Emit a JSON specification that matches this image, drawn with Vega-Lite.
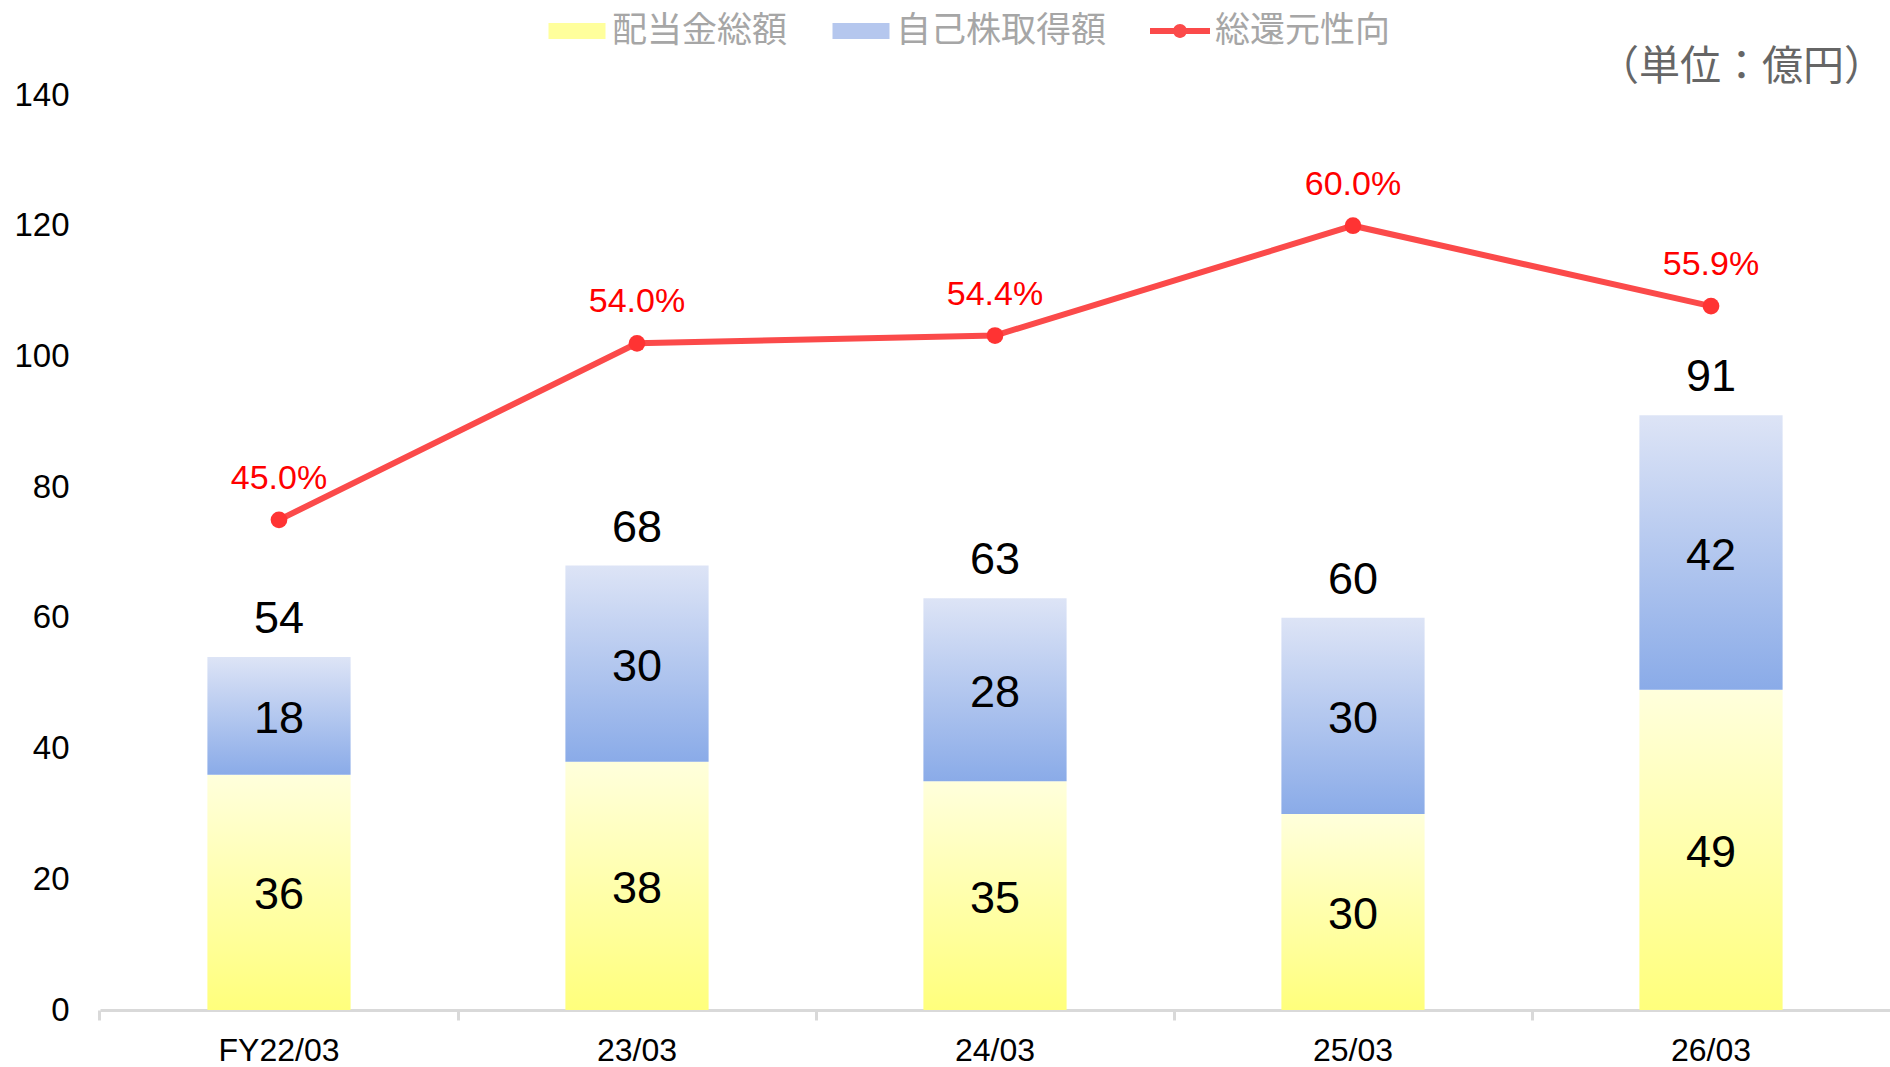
{
  "$schema": "https://vega.github.io/schema/vega-lite/v6.json",
  "width": 1790,
  "height": 915,
  "autosize": {"type": "none"},
  "padding": {"left": 100, "top": 95, "right": 0, "bottom": 57},
  "background": "white",
  "config": {"view": {"stroke": null}, "font": "Liberation Sans"},
  "title": {
    "text": "（単位：億円）",
    "anchor": "end",
    "frame": "group",
    "orient": "top",
    "offset": 29,
    "baseline": "middle",
    "font": "Noto Sans CJK JP",
    "fontSize": 41,
    "fontWeight": "normal",
    "color": "#666666",
    "dx": -5,
    "dy": 137
  },
  "datasets": {
    "bars": [
      {"period": "FY22/03", "series": "配当金総額", "value": 36},
      {"period": "FY22/03", "series": "自己株取得額", "value": 18},
      {"period": "23/03", "series": "配当金総額", "value": 38},
      {"period": "23/03", "series": "自己株取得額", "value": 30},
      {"period": "24/03", "series": "配当金総額", "value": 35},
      {"period": "24/03", "series": "自己株取得額", "value": 28},
      {"period": "25/03", "series": "配当金総額", "value": 30},
      {"period": "25/03", "series": "自己株取得額", "value": 30},
      {"period": "26/03", "series": "配当金総額", "value": 49},
      {"period": "26/03", "series": "自己株取得額", "value": 42}
    ],
    "ratio": [
      {"period": "FY22/03", "pct": 0.45},
      {"period": "23/03", "pct": 0.54},
      {"period": "24/03", "pct": 0.544},
      {"period": "25/03", "pct": 0.60},
      {"period": "26/03", "pct": 0.559}
    ]
  },
  "layer": [
    {
      "data": {"name": "bars"},
      "transform": [
        {"stack": "value", "groupby": ["period"], "sort": [{"field": "series", "order": "descending"}], "as": ["v0", "v1"]}
      ],
      "layer": [
        {
          "mark": {"type": "bar", "fillOpacity": 0, "strokeWidth": 0},
          "encoding": {
            "x": {
              "field": "period", "type": "nominal", "sort": null,
              "scale": {"paddingInner": 0.6, "paddingOuter": 0.3},
              "axis": {
                "title": null, "labelAngle": 0, "labelFontSize": 32, "labelColor": "#000000",
                "domainColor": "#d9d9d9", "domainWidth": 3, "tickColor": "#d9d9d9", "tickWidth": 3,
                "tickSize": 10, "bandPosition": -0.75, "labelPadding": 15
              }
            },
            "y": {
              "field": "v0", "type": "quantitative",
              "scale": {"domain": [0, 140]},
              "axis": {
                "title": null, "domain": false, "ticks": false, "tickSize": 0, "grid": false,
                "labelFontSize": 33, "labelColor": "#000000", "labelPadding": 31,
                "values": [0, 20, 40, 60, 80, 100, 120, 140]
              }
            },
            "y2": {"field": "v1"},
            "color": {
              "field": "series", "type": "nominal",
              "scale": {
                "domain": ["配当金総額", "自己株取得額", "総還元性向"],
                "range": ["#ffff9c", "#b5c7ee", "#fb4a4a"]
              },
              "legend": {
                "orient": "none", "legendX": 447, "legendY": -94, "direction": "horizontal",
                "title": null, "labelFont": "Noto Sans CJK JP", "labelFontSize": 35, "labelLimit": 0,
                "labelColor": "#a6a6a6", "symbolSize": 3600, "labelOffset": 5, "columnPadding": 43,
                "symbolOpacity": 1,
                "encode": {
                  "symbols": {
                    "update": {
                      "shape": {"signal": "datum.value === '総還元性向' ? 'M-1,-0.1H1V0.1H-1Z M-0.23,0 A0.23,0.23 0 1,1 0.23,0 A0.23,0.23 0 1,1 -0.23,0 Z' : 'M-0.95,-0.27H0.95V0.27H-0.95Z'"},
                      "fill": {"signal": "datum.value === '配当金総額' ? {gradient: 'linear', x1: 0, y1: 1, x2: 0, y2: 0, stops: [{offset: 0, color: '#ffff7c'}, {offset: 1, color: '#ffffdc'}]} : datum.value === '自己株取得額' ? {gradient: 'linear', x1: 0, y1: 1, x2: 0, y2: 0, stops: [{offset: 0, color: '#8aabe8'}, {offset: 1, color: '#dde4f6'}]} : '#fb4a4a'"},
                      "stroke": {"value": "transparent"},
                      "strokeWidth": {"value": 0},
                      "opacity": {"value": 1},
                      "fillOpacity": {"value": 1}
                    }
                  }
                }
              }
            }
          }
        },
        {
          "transform": [{"filter": "datum.series === '配当金総額'"}],
          "mark": {"type": "bar", "fill": {"gradient": "linear", "x1": 0, "y1": 1, "x2": 0, "y2": 0, "stops": [{"offset": 0, "color": "#ffff7c"}, {"offset": 1, "color": "#ffffdc"}]}},
          "encoding": {
            "x": {"field": "period", "type": "nominal", "sort": null},
            "y": {"field": "v0", "type": "quantitative", "axis": {"title": null}},
            "y2": {"field": "v1"}
          }
        },
        {
          "transform": [{"filter": "datum.series === '自己株取得額'"}],
          "mark": {"type": "bar", "fill": {"gradient": "linear", "x1": 0, "y1": 1, "x2": 0, "y2": 0, "stops": [{"offset": 0, "color": "#8aabe8"}, {"offset": 1, "color": "#dde4f6"}]}},
          "encoding": {
            "x": {"field": "period", "type": "nominal", "sort": null},
            "y": {"field": "v0", "type": "quantitative", "axis": {"title": null}},
            "y2": {"field": "v1"}
          }
        },
        {
          "transform": [{"calculate": "(datum.v0 + datum.v1) / 2", "as": "mid"}],
          "mark": {"type": "text", "fontSize": 45, "color": "#000000", "baseline": "middle", "dy": 3},
          "encoding": {
            "x": {"field": "period", "type": "nominal", "sort": null},
            "y": {"field": "mid", "type": "quantitative", "axis": {"title": null}},
            "text": {"field": "value", "type": "quantitative"}
          }
        },
        {
          "transform": [{"filter": "datum.series === '自己株取得額'"}],
          "mark": {"type": "text", "fontSize": 45, "color": "#000000", "baseline": "middle", "dy": -38},
          "encoding": {
            "x": {"field": "period", "type": "nominal", "sort": null},
            "y": {"field": "v1", "type": "quantitative", "axis": {"title": null}},
            "text": {"field": "v1", "type": "quantitative"}
          }
        }
      ]
    },
    {
      "data": {"name": "ratio"},
      "encoding": {
        "x": {"field": "period", "type": "nominal", "sort": null},
        "y": {"field": "pct", "type": "quantitative", "scale": {"domain": [0.2, 0.666667]}, "axis": null}
      },
      "layer": [
        {
          "mark": {"type": "line", "strokeWidth": 6},
          "encoding": {"color": {"datum": "総還元性向", "type": "nominal"}}
        },
        {
          "mark": {"type": "point", "filled": true, "size": 280, "opacity": 1, "color": "#ff3333"},
          "encoding": {}
        },
        {
          "mark": {"type": "text", "fontSize": 34, "color": "#ff0000", "baseline": "middle", "dy": -41},
          "encoding": {"text": {"field": "pct", "type": "quantitative", "format": ".1%"}}
        }
      ]
    }
  ],
  "resolve": {"scale": {"y": "independent"}}
}
